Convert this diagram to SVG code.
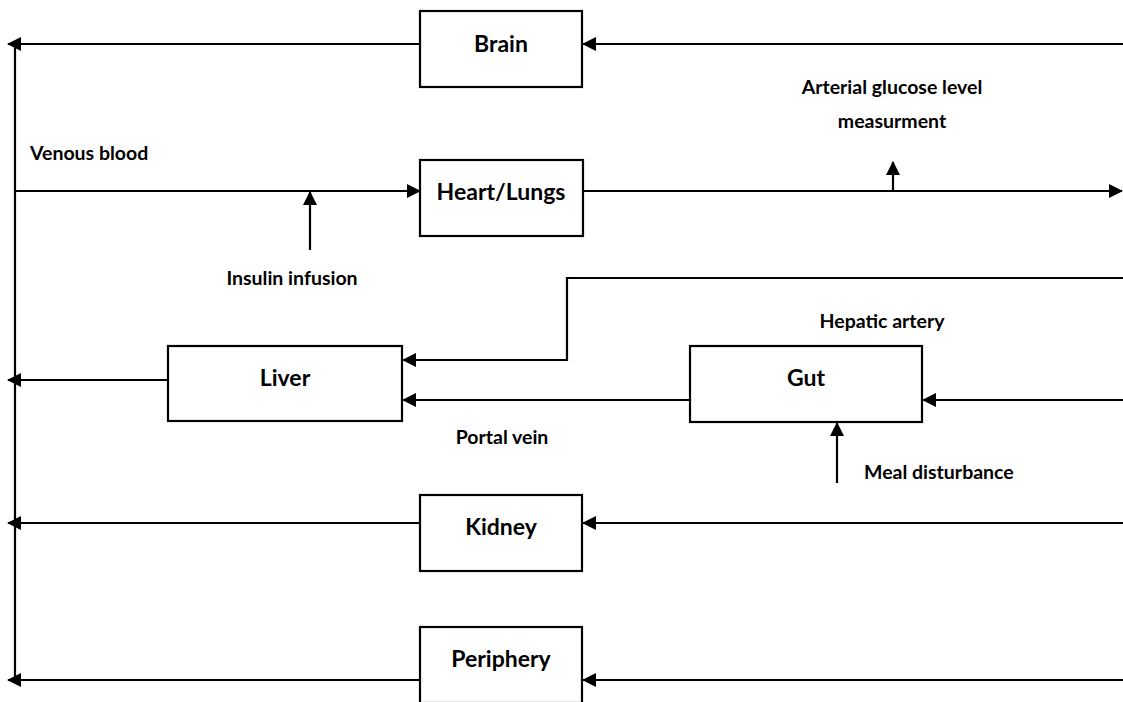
<svg xmlns="http://www.w3.org/2000/svg" width="1123" height="702" viewBox="0 0 1123 702">
  <style>
    .box { fill: #ffffff; stroke: #000000; stroke-width: 2.2; }
    .name { font-family: Lato, "Open Sans", "Liberation Sans", sans-serif; font-weight: bold; font-size: 23px; fill: #000000; text-anchor: middle; }
    .lbl { font-family: Lato, "Open Sans", "Liberation Sans", sans-serif; font-weight: bold; font-size: 19.5px; fill: #000000; }
    .wire { fill: none; stroke: #000000; stroke-width: 2.2; }
  </style>
  <defs>
    <marker id="tip" viewBox="0 0 14 14" refX="13" refY="7" markerWidth="14" markerHeight="14" markerUnits="userSpaceOnUse" orient="auto">
      <path d="M0,0 L14,7 L0,14 Z" fill="#000000"/>
    </marker>
  </defs>
  <rect width="1123" height="702" fill="#ffffff"/>

  <!-- connectors -->
  <g id="connectors">
    <!-- venous return bus -->
    <line class="wire" x1="15" y1="44" x2="15" y2="681"/>
    <!-- brain -->
    <line class="wire" x1="1123" y1="44" x2="583" y2="44" marker-end="url(#tip)"/>
    <line class="wire" x1="420" y1="44" x2="8" y2="44" marker-end="url(#tip)"/>
    <!-- heart / lungs -->
    <line class="wire" x1="15" y1="191" x2="420" y2="191" marker-end="url(#tip)"/>
    <line class="wire" x1="584" y1="191" x2="1122" y2="191" marker-end="url(#tip)"/>
    <line class="wire" x1="310" y1="250" x2="310" y2="192" marker-end="url(#tip)"/>
    <line class="wire" x1="893" y1="190" x2="893" y2="162" marker-end="url(#tip)"/>
    <!-- hepatic artery -->
    <polyline class="wire" points="1123,278 567,278 567,360 403,360" marker-end="url(#tip)"/>
    <!-- portal vein -->
    <line class="wire" x1="690" y1="400" x2="403" y2="400" marker-end="url(#tip)"/>
    <line class="wire" x1="168" y1="380" x2="8" y2="380" marker-end="url(#tip)"/>
    <!-- gut -->
    <line class="wire" x1="1123" y1="400" x2="923" y2="400" marker-end="url(#tip)"/>
    <line class="wire" x1="837" y1="483" x2="837" y2="423" marker-end="url(#tip)"/>
    <!-- kidney -->
    <line class="wire" x1="1123" y1="523" x2="583" y2="523" marker-end="url(#tip)"/>
    <line class="wire" x1="420" y1="523" x2="8" y2="523" marker-end="url(#tip)"/>
    <!-- periphery -->
    <line class="wire" x1="1123" y1="680" x2="583" y2="680" marker-end="url(#tip)"/>
    <line class="wire" x1="420" y1="680" x2="8" y2="680" marker-end="url(#tip)"/>
  </g>

  <!-- nodes -->
  <g id="brain">
    <rect class="box" x="420" y="11" width="162" height="76"/>
    <text class="name" x="501" y="52">Brain</text>
  </g>
  <g id="heart-lungs">
    <rect class="box" x="420" y="160" width="163" height="76"/>
    <text class="name" x="501" y="200">Heart/Lungs</text>
  </g>
  <g id="liver">
    <rect class="box" x="168" y="346" width="234" height="75"/>
    <text class="name" x="285" y="386">Liver</text>
  </g>
  <g id="gut">
    <rect class="box" x="690" y="346" width="232" height="76"/>
    <text class="name" x="806" y="386">Gut</text>
  </g>
  <g id="kidney">
    <rect class="box" x="420" y="495" width="162" height="76"/>
    <text class="name" x="501" y="535">Kidney</text>
  </g>
  <g id="periphery">
    <rect class="box" x="420" y="627" width="162" height="76"/>
    <text class="name" x="501" y="667">Periphery</text>
  </g>

  <!-- flow labels -->
  <g id="labels">
    <text class="lbl" x="30" y="160">Venous blood</text>
    <text class="lbl" x="292" y="285" text-anchor="middle">Insulin infusion</text>
    <text class="lbl" x="892" y="94" text-anchor="middle">Arterial glucose level</text>
    <text class="lbl" x="892" y="128" text-anchor="middle">measurment</text>
    <text class="lbl" x="882" y="328" text-anchor="middle">Hepatic artery</text>
    <text class="lbl" x="502" y="444" text-anchor="middle">Portal vein</text>
    <text class="lbl" x="864" y="479">Meal disturbance</text>
  </g>
</svg>
